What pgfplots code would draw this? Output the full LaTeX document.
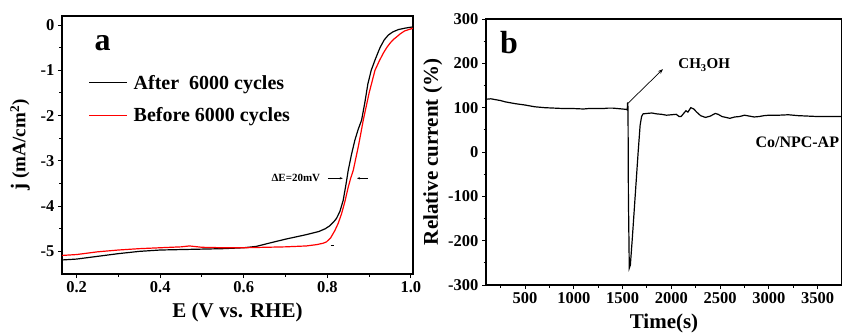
\documentclass[border=0pt]{standalone}
\usepackage{fontspec}
\setmainfont{Liberation Serif}
\usepackage{pgfplots}
\pgfplotsset{compat=1.18}
\usetikzlibrary{arrows.meta}
\begin{document}
\begin{tikzpicture}[x=1pt,y=1pt]
\useasboundingbox (0,0) rectangle (842,333);
\pgfplotsset{
  mystyle/.style={
    scale only axis,
    anchor=south west,
    axis line style={line width=1.2pt},
    tick align=outside,
    tick pos=left,
    major tick length=4pt,
    minor tick length=2.5pt,
    every tick/.style={line width=1pt,black},
    /pgf/number format/assume math mode=true,
    tick label style={font=\bfseries\fontsize{16.5}{16.5}\selectfont},
    label style={font=\bfseries\fontsize{21}{21}\selectfont},
  }
}
% ---------------- panel a
\begin{axis}[mystyle,
  at={(62pt,59pt)}, width=351pt, height=258pt,
  xmin=0.165, xmax=1.005, ymin=-5.5, ymax=0.2,
  xtick={0.2,0.4,0.6,0.8,1.0}, minor x tick num=1,
  ytick={-5,-4,-3,-2,-1,0}, minor y tick num=1,
  xticklabel style={/pgf/number format/.cd,fixed,fixed zerofill,precision=1},
  yticklabel style={/pgf/number format/.cd,int detect},
  xlabel={E (V vs. RHE)},
  ylabel={j {\fontsize{19}{19}\selectfont(mA/cm\textsuperscript{2})}},
  xlabel style={yshift=-3pt},
  ylabel style={yshift=4pt},
  legend style={at={(0.075,0.678)}, anchor=west, draw=none, fill=none,
    font=\bfseries\fontsize{20}{20}\selectfont, inner sep=0pt,
    row sep=13pt, cells={anchor=west}},
  legend image code/.code={\draw[#1] (0pt,0pt) -- (38pt,0pt);},
]
\addplot[black, line width=1.2pt] coordinates {
(0.165,-5.19) (0.2,-5.17) (0.25,-5.11) (0.3,-5.05) (0.35,-5.0) (0.4,-4.97)
(0.45,-4.96) (0.5,-4.95) (0.55,-4.94) (0.6,-4.92) (0.63,-4.89) (0.66,-4.82)
(0.7,-4.73) (0.75,-4.63) (0.78,-4.56) (0.795,-4.5) (0.805,-4.44) (0.815,-4.35)
(0.822,-4.27) (0.83,-4.12) (0.838,-3.87) (0.845,-3.5) (0.85,-3.21)
(0.858,-2.85) (0.866,-2.54) (0.874,-2.3) (0.882,-2.1) (0.89,-1.7) (0.897,-1.3)
(0.905,-1.0) (0.915,-0.75) (0.926,-0.5) (0.936,-0.33) (0.946,-0.22)
(0.957,-0.15) (0.97,-0.1) (0.985,-0.07) (1.005,-0.04)
};
\addlegendentry{\hspace{4pt}After\ \ 6000 cycles}
\addplot[red, line width=1.2pt] coordinates {
(0.165,-5.09) (0.2,-5.07) (0.25,-5.01) (0.3,-4.97) (0.35,-4.94) (0.4,-4.92)
(0.45,-4.9) (0.47,-4.88) (0.5,-4.91) (0.55,-4.92) (0.6,-4.92) (0.65,-4.91)
(0.7,-4.9) (0.75,-4.88) (0.775,-4.85) (0.79,-4.82) (0.798,-4.79) (0.808,-4.7)
(0.818,-4.54) (0.826,-4.38) (0.834,-4.17) (0.842,-3.9) (0.85,-3.58)
(0.856,-3.38) (0.862,-3.21) (0.868,-2.95) (0.874,-2.69) (0.88,-2.4)
(0.886,-2.1) (0.893,-1.8) (0.9,-1.5) (0.907,-1.25) (0.914,-1.0) (0.925,-0.78)
(0.934,-0.62) (0.942,-0.5) (0.95,-0.4) (0.958,-0.32) (0.966,-0.26)
(0.975,-0.19) (0.985,-0.13) (1.005,-0.07)
};
\addlegendentry{\hspace{4pt}Before 6000 cycles}
\node[font=\bfseries\fontsize{32}{32}\selectfont] at (axis cs:0.262,-0.40) {a};
\node[font=\bfseries\fontsize{11}{11}\selectfont] at (axis cs:0.7246,-3.385) {ΔE=20mV};
\draw[-{Stealth[length=3pt]}, line width=0.6pt] (axis cs:0.801,-3.385) -- (axis cs:0.837,-3.385);
\draw[-{Stealth[length=3pt]}, line width=0.6pt] (axis cs:0.897,-3.385) -- (axis cs:0.871,-3.385);
\draw[line width=0.8pt] (axis cs:0.808,-4.87) -- (axis cs:0.815,-4.87);
\end{axis}
% ---------------- panel b
\begin{axis}[mystyle,
  at={(486pt,48pt)}, width=356pt, height=266pt,
  xmin=100, xmax=3750, ymin=-300, ymax=300,
  xtick={500,1000,1500,2000,2500,3000,3500},
  minor xtick={250,750,1250,1750,2250,2750,3250,3750},
  ytick={-300,-200,-100,0,100,200,300}, minor y tick num=1,
  xticklabel style={/pgf/number format/.cd,1000 sep={}},
  xlabel={Time(s)},
  ylabel={Relative current (\%)},
  xlabel style={yshift=-3pt},
  ylabel style={yshift=-1pt},
]
\addplot[black, line width=1.2pt] coordinates {
(100,119) (150,120) (200,118) (250,116) (300,113) (400,109) (500,106) (600,102)
(700,100) (800,99) (900,98) (1000,98) (1100,97) (1150,98) (1200,98) (1300,98)
(1350,99) (1400,99) (1450,98) (1500,97) (1540,96) (1548,95) (1552,112)
(1556,100) (1560,-100) (1569,-262) (1580,-255) (1600,-195) (1620,-130)
(1640,-65) (1660,0) (1680,60) (1695,80) (1710,86) (1750,87) (1800,88)
(1850,86) (1900,85) (1950,83) (2000,84) (2050,85) (2080,80) (2100,80)
(2130,88) (2150,93) (2170,90) (2200,100) (2230,97) (2260,90) (2300,82)
(2350,78) (2400,81) (2450,87) (2480,85) (2520,80) (2560,78) (2600,76)
(2650,79) (2700,80) (2750,83) (2800,81) (2850,79) (2900,80) (2950,82)
(3000,83) (3100,83) (3200,84) (3300,82) (3400,81) (3500,80) (3600,80) (3750,80)
};
\node[font=\bfseries\fontsize{32}{32}\selectfont] at (axis cs:336,246) {b};
\node[font=\bfseries\fontsize{15}{15}\selectfont, anchor=west] at (axis cs:2037,196) {CH\textsubscript{3}OH};
\draw[-{Stealth[length=5pt]}, line width=0.7pt] (axis cs:1556,110) -- (axis cs:1914,187);
\node[font=\bfseries\fontsize{16}{16}\selectfont, anchor=west] at (axis cs:2827,22) {Co/NPC-AP};
\end{axis}
\end{tikzpicture}
\end{document}
